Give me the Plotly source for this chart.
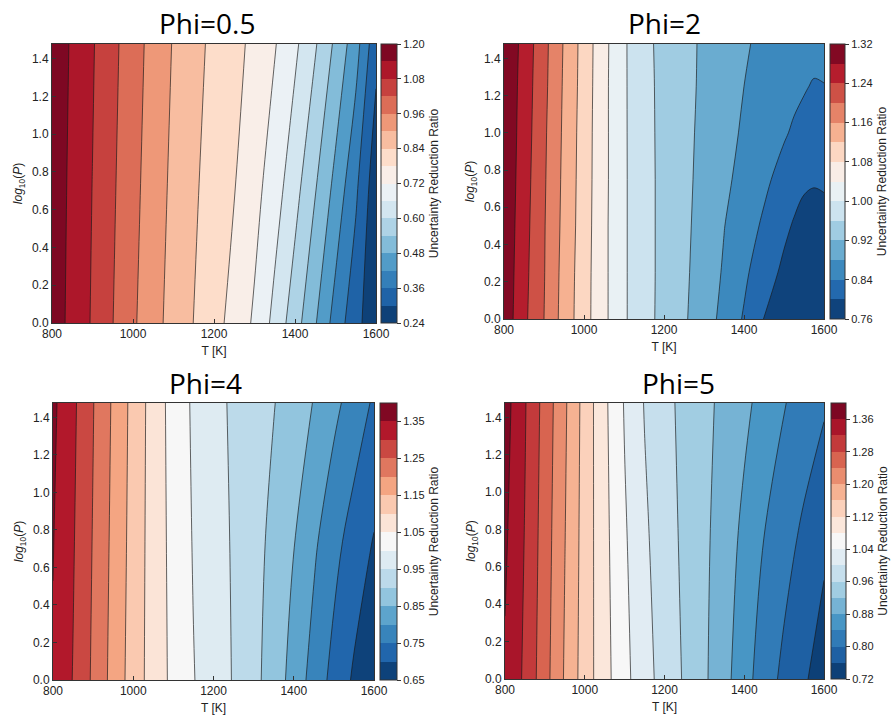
import numpy as np
import plotly.graph_objects as go

# ---------------------------------------------------------------------------
# Data: uncertainty reduction ratio on a (T, log10 P) grid for four Phi values
# ---------------------------------------------------------------------------
T_K = [800, 850, 900, 950, 1000, 1050, 1100, 1150, 1200,
       1250, 1300, 1350, 1400, 1450, 1500, 1550, 1600]
# Phi=2 uses extra columns near the closed contours at high T
T_K_PHI2 = [800, 850, 900, 950, 1000, 1050, 1100, 1150, 1200,
            1250, 1300, 1350, 1400, 1450, 1500, 1525, 1550, 1575, 1600]

LOG10_P_COARSE = [0.0, 0.74, 1.477]
LOG10_P_FINE = [0.0, 0.25, 0.5, 0.75, 1.0, 1.25, 1.477]

URR_PHI_05 = [
    [1.171, 1.123, 1.074, 1.021, 0.969, 0.921, 0.878, 0.839, 0.801,
     0.759, 0.711, 0.642, 0.566, 0.485, 0.395, 0.320, 0.255],
    [1.175, 1.127, 1.079, 1.028, 0.978, 0.930, 0.887, 0.849, 0.815,
     0.783, 0.741, 0.689, 0.623, 0.546, 0.464, 0.373, 0.262],
    [1.180, 1.132, 1.085, 1.035, 0.986, 0.939, 0.896, 0.859, 0.826,
     0.798, 0.765, 0.724, 0.672, 0.606, 0.528, 0.445, 0.318],
]

URR_PHI_2 = [
    [1.306, 1.249, 1.200, 1.144, 1.096, 1.049, 1.005, 0.974, 0.948,
     0.925, 0.898, 0.869, 0.836, 0.799, 0.787, 0.782, 0.778, 0.776, 0.776],
    [1.308, 1.252, 1.202, 1.146, 1.097, 1.049, 1.005, 0.974, 0.949,
     0.927, 0.902, 0.876, 0.848, 0.816, 0.793, 0.788, 0.785, 0.783, 0.782],
    [1.310, 1.255, 1.203, 1.149, 1.099, 1.049, 1.005, 0.974, 0.949,
     0.928, 0.906, 0.881, 0.858, 0.834, 0.807, 0.797, 0.794, 0.791, 0.790],
    [1.312, 1.258, 1.205, 1.151, 1.100, 1.050, 1.005, 0.974, 0.949,
     0.929, 0.909, 0.888, 0.868, 0.848, 0.826, 0.813, 0.803, 0.802, 0.804],
    [1.313, 1.261, 1.207, 1.153, 1.101, 1.050, 1.005, 0.973, 0.949,
     0.930, 0.911, 0.893, 0.875, 0.860, 0.844, 0.835, 0.828, 0.823, 0.822],
    [1.315, 1.263, 1.210, 1.155, 1.103, 1.050, 1.005, 0.972, 0.949,
     0.931, 0.913, 0.897, 0.880, 0.868, 0.855, 0.849, 0.843, 0.837, 0.839],
    [1.317, 1.266, 1.212, 1.157, 1.104, 1.051, 1.005, 0.971, 0.948,
     0.931, 0.914, 0.899, 0.884, 0.872, 0.863, 0.859, 0.856, 0.853, 0.852],
]

URR_PHI_4 = [
    [1.345, 1.298, 1.242, 1.183, 1.127, 1.078, 1.038, 1.002, 0.975,
     0.947, 0.914, 0.877, 0.831, 0.780, 0.734, 0.693, 0.655],
    [1.352, 1.304, 1.247, 1.188, 1.131, 1.078, 1.035, 0.997, 0.971,
     0.945, 0.918, 0.887, 0.852, 0.809, 0.766, 0.729, 0.697],
    [1.360, 1.310, 1.252, 1.193, 1.134, 1.079, 1.031, 0.993, 0.966,
     0.942, 0.922, 0.902, 0.876, 0.848, 0.813, 0.778, 0.743],
]

URR_PHI_5 = [
    [1.355, 1.313, 1.255, 1.196, 1.141, 1.094, 1.051, 1.015, 0.984,
     0.956, 0.926, 0.893, 0.855, 0.820, 0.790, 0.765, 0.740],
    [1.366, 1.318, 1.260, 1.201, 1.143, 1.091, 1.045, 1.007, 0.978,
     0.952, 0.928, 0.900, 0.870, 0.839, 0.815, 0.791, 0.768],
    [1.376, 1.323, 1.265, 1.206, 1.145, 1.088, 1.037, 0.998, 0.972,
     0.949, 0.930, 0.910, 0.889, 0.866, 0.842, 0.823, 0.805],
]

PANEL_TITLES = ["Phi=0.5", "Phi=2", "Phi=4", "Phi=5"]
PANEL_T = [T_K, T_K_PHI2, T_K, T_K]
PANEL_LOGP = [LOG10_P_COARSE, LOG10_P_FINE, LOG10_P_COARSE, LOG10_P_COARSE]
PANEL_Z = [URR_PHI_05, URR_PHI_2, URR_PHI_4, URR_PHI_5]
# filled-contour levels: lowest, highest, spacing; colorbar tick spacing
LEVEL_LO = [0.24, 0.76, 0.65, 0.72]
LEVEL_HI = [1.20, 1.32, 1.40, 1.40]
LEVEL_STEP = [0.06, 0.04, 0.05, 0.04]
TICK_LO = [0.24, 0.76, 0.65, 0.72]
TICK_HI = [1.20, 1.32, 1.35, 1.36]
TICK_STEP = [0.12, 0.08, 0.10, 0.08]

X_TICKS = [800, 1000, 1200, 1400, 1600]
Y_TICKS = [0.0, 0.2, 0.4, 0.6, 0.8, 1.0, 1.2, 1.4]

# ---------------------------------------------------------------------------
# Colour map (ColorBrewer RdBu, reversed: blue -> red)
# ---------------------------------------------------------------------------
RDBU_R = ["#053061", "#2166ac", "#4393c3", "#92c5de", "#d1e5f0", "#f7f7f7",
          "#fddbc7", "#f4a582", "#d6604d", "#b2182b", "#67001f"]


def _hex_rgb(h):
    return np.array([int(h[i:i + 2], 16) for i in (1, 3, 5)], dtype=float)


_ANCHORS = np.array([_hex_rgb(c) for c in RDBU_R])


def rdbu_r(t):
    pos = np.linspace(0, 1, len(_ANCHORS))
    rgb = [np.interp(t, pos, _ANCHORS[:, k]) for k in range(3)]
    return "rgb({:.0f},{:.0f},{:.0f})".format(*rgb)


def band_colorscale(n):
    # one stop per filled band, each band sampled at its mid-level
    return [[j / (n - 1), rdbu_r((j + 0.5) / n)] for j in range(n)]


# ---------------------------------------------------------------------------
# Layout geometry (pixels)
# ---------------------------------------------------------------------------
W, H = 894, 717
PLOT_BOX = [(52, 44, 376, 323), (504, 44, 824, 319),
            (53, 403, 374, 680), (505, 403, 824, 679)]
CBAR_X = [(381, 397), (830, 845), (380, 397), (831, 846)]
TITLE_XY = [(207, 23), (664, 23), (205, 383), (678, 383)]

FONT = "Liberation Sans, Arial, sans-serif"
TITLE_FONT = "Open Sans, Noto Sans, sans-serif"
EDGE = "#333333"
LINE_COLOR = "rgba(25,25,25,0.75)"

fig = go.Figure()
layout = dict(
    width=W, height=H,
    margin=dict(l=0, r=0, t=0, b=0, autoexpand=False),
    paper_bgcolor="white", plot_bgcolor="white",
    showlegend=False,
    font=dict(family=FONT, size=12, color="#222222"),
    annotations=[],
)

for i in range(4):
    lo, hi, step = LEVEL_LO[i], LEVEL_HI[i], LEVEL_STEP[i]
    n_bands = int(round((hi - lo) / step))
    start = round(lo + step, 6)
    end = round(hi - step, 6)
    ticks = [round(v, 4) for v in np.arange(TICK_LO[i], TICK_HI[i] + 1e-9, TICK_STEP[i])]
    x0, y0, x1, y1 = PLOT_BOX[i]
    cx0, cx1 = CBAR_X[i]
    sfx = "" if i == 0 else str(i + 1)

    fig.add_trace(go.Contour(
        x=PANEL_T[i], y=PANEL_LOGP[i], z=PANEL_Z[i],
        xaxis="x" + sfx, yaxis="y" + sfx,
        autocontour=False,
        contours=dict(coloring="fill", showlines=False,
                      start=start, end=end, size=step),
        zmin=lo, zmax=hi,
        colorscale=band_colorscale(n_bands),
        line=dict(width=0),
        hoverinfo="skip",
        colorbar=dict(
            x=cx0 / W, xanchor="left", xpad=0,
            y=1 - (y0 + y1) / 2 / H, yanchor="middle", ypad=0,
            len=(y1 - y0), lenmode="pixels",
            thickness=cx1 - cx0, thicknessmode="pixels",
            outlinewidth=1, outlinecolor=EDGE,
            tickmode="array", tickvals=ticks,
            ticktext=["{:.2f}".format(v) for v in ticks],
            ticks="outside", ticklen=4, tickwidth=1, tickcolor=EDGE,
            tickfont=dict(size=11, family=FONT, color="#222222"),
            title=dict(text="Uncertainty Reduction Ratio", side="right",
                       font=dict(size=12, family=FONT, color="#222222")),
        ),
    ))
    fig.add_trace(go.Contour(
        x=PANEL_T[i], y=PANEL_LOGP[i], z=PANEL_Z[i],
        xaxis="x" + sfx, yaxis="y" + sfx,
        autocontour=False,
        contours=dict(coloring="none", showlines=True,
                      start=start, end=end, size=step),
        line=dict(color=LINE_COLOR, width=0.9),
        showscale=False, hoverinfo="skip",
    ))

    axis_common = dict(showline=True, mirror=True, linecolor=EDGE, linewidth=1,
                       ticks="inside", ticklen=4, tickwidth=1, tickcolor=EDGE,
                       showgrid=False, zeroline=False,
                       tickfont=dict(size=12, family=FONT, color="#222222"))
    layout["xaxis" + sfx] = dict(
        axis_common, domain=[x0 / W, x1 / W], range=[800, 1600],
        tickmode="array", tickvals=X_TICKS,
        anchor="y" + sfx,
        title=dict(text="T [K]", standoff=6,
                   font=dict(size=12, family=FONT, color="#222222")),
    )
    layout["yaxis" + sfx] = dict(
        axis_common, domain=[1 - y1 / H, 1 - y0 / H], range=[0, 1.477],
        tickmode="array", tickvals=Y_TICKS, tickformat=".1f",
        anchor="x" + sfx,
        title=dict(text="<i>log</i><sub>10</sub>(<i>P</i>)", standoff=6,
                   font=dict(size=12, family=FONT, color="#222222")),
    )
    tx, ty = TITLE_XY[i]
    layout["annotations"].append(dict(
        text=PANEL_TITLES[i], x=tx / W, y=1 - ty / H, xref="paper", yref="paper",
        xanchor="center", yanchor="middle", showarrow=False,
        font=dict(size=28, family=TITLE_FONT, color="black"),
    ))

fig.update_layout(**layout)
fig.write_html("out.html")
